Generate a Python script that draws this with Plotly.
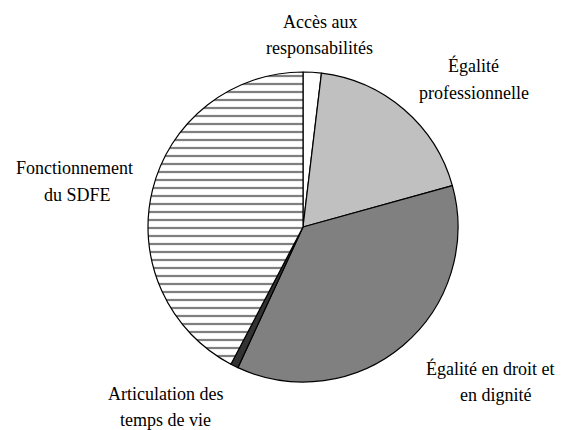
import plotly.graph_objects as go

categories = [
    "Accès aux<br>responsabilités",
    "Égalité<br>professionnelle",
    "Égalité en droit et<br>en dignité",
    "Articulation des<br>temps de vie",
    "Fonctionnement<br>du SDFE",
]
values = [1.9, 18.8, 36.2, 0.8, 42.3]

colors = ["#FFFFFF", "#C0C0C0", "#808080", "#333333", "#FFFFFF"]
shapes = ["", "", "", "", "-"]

# label line centres (page pixels) for each category
label_pos = [
    [(320, 22), (319, 48)],
    [(473, 66), (474, 93)],
    [(490, 368), (495, 395)],
    [(165, 394), (165, 420)],
    [(74, 168), (77, 195)],
]

OFF = 8  # page body margin
W, H = 556, 422
FONT = "'Liberation Serif', 'Times New Roman', Times, serif"


def px_x(px):
    return (px - OFF) / W


def px_y(py):
    return 1 - (py - OFF) / H


fig = go.Figure(go.Pie(
    labels=categories,
    values=values,
    sort=False,
    direction="clockwise",
    rotation=0,
    textinfo="none",
    hoverinfo="label+percent",
    marker=dict(
        colors=colors,
        line=dict(color="black", width=1.2),
        pattern=dict(shape=shapes, fgcolor="black", bgcolor="white",
                     size=8, solidity=0.28, fillmode="overlay"),
    ),
    domain=dict(x=[px_x(148), px_x(458)], y=[px_y(382), px_y(72)]),
    showlegend=False,
))

for cat, pos in zip(categories, label_pos):
    for line, (px, py) in zip(cat.split("<br>"), pos):
        fig.add_annotation(
            x=px_x(px), y=px_y(py), xref="paper", yref="paper",
            text=line, showarrow=False, xanchor="center", yanchor="middle",
            font=dict(family=FONT, size=18, color="black"),
        )

fig.update_layout(
    width=W, height=H,
    margin=dict(l=0, r=0, t=0, b=0),
    paper_bgcolor="white",
    plot_bgcolor="white",
    font=dict(family=FONT),
)

fig.write_html("out.html")
